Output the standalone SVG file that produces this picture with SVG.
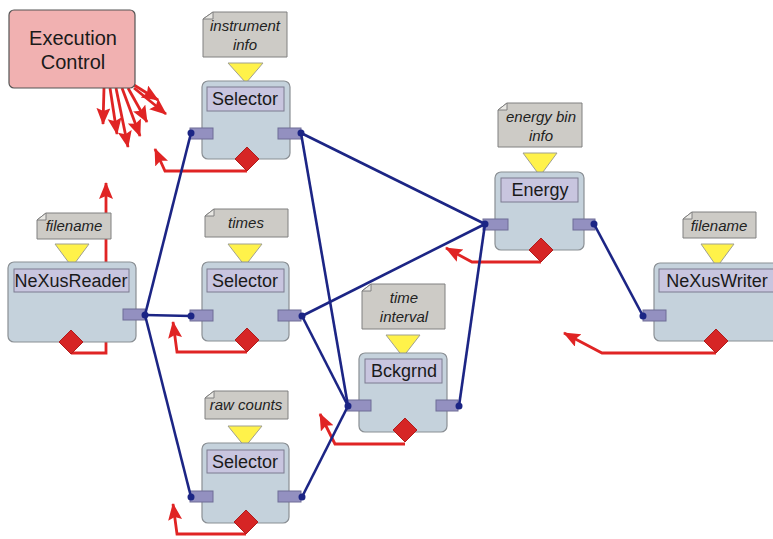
<svg xmlns="http://www.w3.org/2000/svg" width="773" height="539" viewBox="0 0 773 539">
<defs>
<marker id="ra" markerUnits="userSpaceOnUse" markerWidth="18" markerHeight="16" refX="16" refY="7" orient="auto">
<path d="M0,0 L17,7 L0,14 L3,7 Z" fill="#e02424"/>
</marker>
</defs>
<style>
.node{fill:#c5d2dc;stroke:#8a8f94;stroke-width:1.2}
.title{fill:#c8c5df;stroke:#7d7b90;stroke-width:1}
.port{fill:#9390c0;stroke:#6f6d96;stroke-width:1}
.note{fill:#cdcbc6;stroke:#808080;stroke-width:1}
.ear{fill:#e9e8e4;stroke:#808080;stroke-width:1}
.tri{fill:#fff24a;stroke:#a0a090;stroke-width:1}
.dia{fill:#d62525;stroke:#b01c1c;stroke-width:1}
.tt{font-family:"Liberation Sans",Arial,sans-serif;font-size:18px;fill:#1a1a1a;text-anchor:middle}
.nt{font-family:"Liberation Sans",Arial,sans-serif;font-size:15px;font-style:italic;fill:#222;text-anchor:middle}
.red{fill:none;stroke:#e02424;stroke-width:2.8;marker-end:url(#ra)}
.blue{fill:none;stroke:#1c2585;stroke-width:2.6}
.dot{fill:#1c2585}
</style>
<rect width="773" height="539" fill="#ffffff"/>

<g id="control-signals">
<path class="red" d="M104,88 L103,124"/>
<path class="red" d="M110,88 L117,134"/>
<path class="red" d="M116,88 L128,147"/>
<path class="red" d="M122,88 L140,136"/>
<path class="red" d="M128,88 L147,122"/>
<path class="red" d="M134,85 L158,100"/>
<path class="red" d="M134,88 L166,114"/>
<path class="red" d="M71,353 L106,353 L106,183"/>
<path class="red" d="M247,171 L165,171 L155,149"/>
<path class="red" d="M247,352 L177,352 L173,322"/>
<path class="red" d="M246,534 L177,534 L173,504"/>
<path class="red" d="M405,444 L335,444 L320,414"/>
<path class="red" d="M541,262 L472,262 L446,248"/>
<path class="red" d="M716,353 L602,353 L564,333"/>
</g>

<g id="execution-control">
<rect x="9" y="10" width="126" height="78" rx="5" fill="#f1b1b1" stroke="#555" stroke-width="1.2"/>
<text class="tt" x="73" y="45" style="font-size:20px">Execution</text>
<text class="tt" x="73" y="69" style="font-size:20px">Control</text>
</g>

<g id="nexusreader">
<path class="note" d="M46,213 L111,213 L111,239 L37,239 L37,220 Z"/>
<path class="ear" d="M46,213 L46,220 L37,220 Z"/>
<text class="nt" x="74" y="231">filename</text>
<path class="tri" d="M55,244 L89,244 L72,267 Z"/>
<rect class="node" x="8" y="262" width="128" height="80" rx="6"/>
<rect class="title" x="14" y="269" width="115" height="23"/>
<text class="tt" x="71" y="287">NeXusReader</text>
<rect class="port" x="123" y="309" width="22" height="11"/>
<path class="dia" d="M71,330 L83,342 L71,354 L59,342 Z"/>
</g>

<g id="selector-instrument">
<path class="note" d="M213,12 L287,12 L287,57 L203,57 L203,19 Z"/>
<path class="ear" d="M213,12 L213,19 L203,19 Z"/>
<text class="nt" x="245" y="31">instrument</text>
<text class="nt" x="245" y="50">info</text>
<path class="tri" d="M228,63 L263,63 L246,83 Z"/>
<rect class="node" x="202" y="81" width="88" height="78" rx="6"/>
<rect class="title" x="207" y="87" width="77" height="24"/>
<text class="tt" x="245" y="105">Selector</text>
<rect class="port" x="190" y="128" width="23" height="11"/>
<rect class="port" x="278" y="128" width="23" height="11"/>
<path class="dia" d="M247,147 L259,159 L247,171 L235,159 Z"/>
</g>

<g id="selector-times">
<path class="note" d="M214,209 L288,209 L288,237 L205,237 L205,216 Z"/>
<path class="ear" d="M214,209 L214,216 L205,216 Z"/>
<text class="nt" x="246" y="228">times</text>
<path class="tri" d="M228,244 L262,244 L245,266 Z"/>
<rect class="node" x="202" y="262" width="87" height="79" rx="6"/>
<rect class="title" x="207" y="269" width="77" height="23"/>
<text class="tt" x="245" y="287">Selector</text>
<rect class="port" x="190" y="310" width="23" height="11"/>
<rect class="port" x="278" y="310" width="23" height="11"/>
<path class="dia" d="M247,328 L259,340 L247,352 L235,340 Z"/>
</g>

<g id="selector-rawcounts">
<path class="note" d="M214,391 L288,391 L288,419 L205,419 L205,398 Z"/>
<path class="ear" d="M214,391 L214,398 L205,398 Z"/>
<text class="nt" x="246" y="410">raw counts</text>
<path class="tri" d="M228,426 L262,426 L245,447 Z"/>
<rect class="node" x="202" y="443" width="87" height="80" rx="6"/>
<rect class="title" x="207" y="450" width="77" height="23"/>
<text class="tt" x="245" y="468">Selector</text>
<rect class="port" x="190" y="491" width="23" height="11"/>
<rect class="port" x="278" y="491" width="23" height="11"/>
<path class="dia" d="M246,510 L258,522 L246,534 L234,522 Z"/>
</g>

<g id="bckgrnd">
<path class="note" d="M371,284 L445,284 L445,329 L362,329 L362,291 Z"/>
<path class="ear" d="M371,284 L371,291 L362,291 Z"/>
<text class="nt" x="404" y="303">time</text>
<text class="nt" x="404" y="322">interval</text>
<path class="tri" d="M386,335 L420,335 L403,357 Z"/>
<rect class="node" x="359" y="353" width="88" height="79" rx="6"/>
<rect class="title" x="365" y="359" width="77" height="24"/>
<text class="tt" x="404" y="377">Bckgrnd</text>
<rect class="port" x="347" y="400" width="24" height="11"/>
<rect class="port" x="436" y="400" width="22" height="11"/>
<path class="dia" d="M405,418 L417,430 L405,442 L393,430 Z"/>
</g>

<g id="energy">
<path class="note" d="M507,103 L582,103 L582,147 L498,147 L498,110 Z"/>
<path class="ear" d="M507,103 L507,110 L498,110 Z"/>
<text class="nt" x="541" y="122">energy bin</text>
<text class="nt" x="541" y="141">info</text>
<path class="tri" d="M523,153 L557,153 L540,176 Z"/>
<rect class="node" x="495" y="172" width="89" height="78" rx="6"/>
<rect class="title" x="501" y="178" width="77" height="24"/>
<text class="tt" x="540" y="196">Energy</text>
<rect class="port" x="483" y="219" width="25" height="11"/>
<rect class="port" x="573" y="219" width="22" height="11"/>
<path class="dia" d="M541,238 L553,250 L541,262 L529,250 Z"/>
</g>

<g id="nexuswriter">
<path class="note" d="M692,212 L756,212 L756,238 L683,238 L683,219 Z"/>
<path class="ear" d="M692,212 L692,219 L683,219 Z"/>
<text class="nt" x="719" y="231">filename</text>
<path class="tri" d="M701,244 L734,244 L717,267 Z"/>
<rect class="node" x="654" y="263" width="128" height="78" rx="6"/>
<rect class="title" x="659" y="269" width="117" height="23"/>
<text class="tt" x="717" y="287">NeXusWriter</text>
<rect class="port" x="643" y="310" width="23" height="11"/>
<path class="dia" d="M716,329 L728,341 L716,353 L704,341 Z"/>
</g>

<g id="connectors">
<path class="blue" d="M145,315 L191,133"/>
<path class="blue" d="M145,315 L191,316"/>
<path class="blue" d="M145,315 L191,497"/>
<path class="blue" d="M301,133 L485,224"/>
<path class="blue" d="M301,133 L348,406"/>
<path class="blue" d="M302,316 L485,224"/>
<path class="blue" d="M302,316 L348,406"/>
<path class="blue" d="M302,497 L348,406"/>
<path class="blue" d="M459,406 L485,224"/>
<path class="blue" d="M594,224 L643,316"/>
<circle class="dot" cx="145" cy="315" r="3.5"/>
<circle class="dot" cx="191" cy="133" r="3.5"/>
<circle class="dot" cx="191" cy="316" r="3.5"/>
<circle class="dot" cx="191" cy="497" r="3.5"/>
<circle class="dot" cx="301" cy="133" r="3.5"/>
<circle class="dot" cx="302" cy="316" r="3.5"/>
<circle class="dot" cx="302" cy="497" r="3.5"/>
<circle class="dot" cx="348" cy="406" r="3.5"/>
<circle class="dot" cx="459" cy="406" r="3.5"/>
<circle class="dot" cx="485" cy="224" r="3.5"/>
<circle class="dot" cx="594" cy="224" r="3.5"/>
<circle class="dot" cx="643" cy="316" r="3.5"/>
</g>
</svg>
